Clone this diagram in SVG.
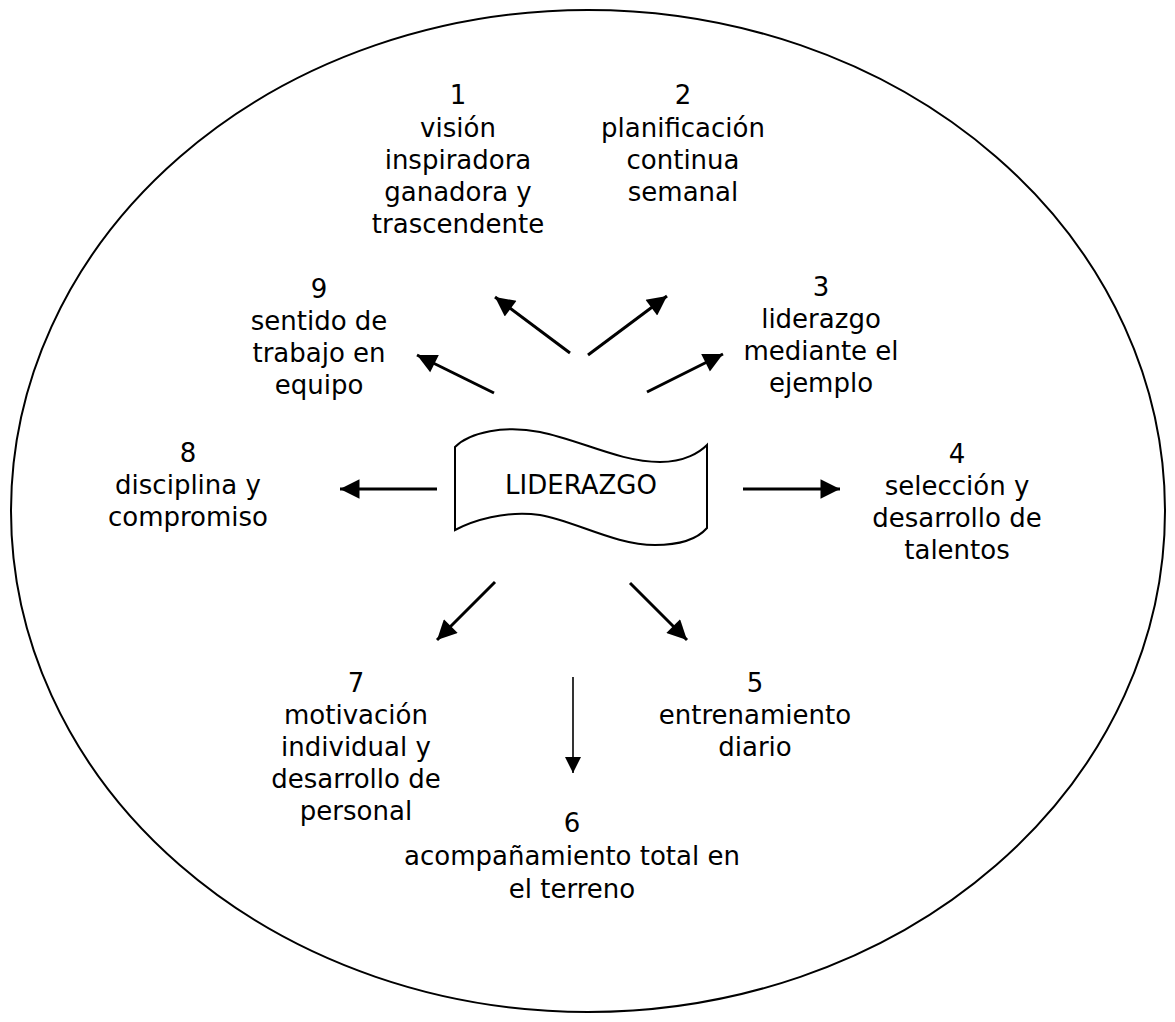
<svg xmlns="http://www.w3.org/2000/svg" width="1175" height="1022" viewBox="0 0 1175 1022">
  <style>
    .lbl { font-family: "DejaVu Sans", Verdana, sans-serif; font-size: 26px; fill: #000; text-anchor: middle; }
    .edge { stroke: #000; stroke-width: 3; fill: none; }
    .thin { stroke: #000; stroke-width: 1.6; fill: none; }
  </style>
  <defs>
    <marker id="head" viewBox="0 0 10 10" refX="10" refY="5" markerWidth="7.5" markerHeight="6.5" markerUnits="strokeWidth" orient="auto">
      <path d="M0,0 L10,5 L0,10 Z" fill="#000"/>
    </marker>
    <marker id="headThin" viewBox="0 0 10 10" refX="10" refY="5" markerWidth="13" markerHeight="10" markerUnits="strokeWidth" orient="auto">
      <path d="M0,0 L10,5 L0,10 Z" fill="#000"/>
    </marker>
  </defs>

  <rect width="1175" height="1022" fill="#fff"/>

  <!-- outer boundary -->
  <ellipse id="boundary" cx="588" cy="511" rx="577" ry="501" fill="none" stroke="#000" stroke-width="2"/>

  <!-- central banner -->
  <g id="center">
    <path d="M455,447 C470,432 505,425 540,432 C580,440 620,462 660,462 C685,462 700,452 707,445 L707,528 C700,536 685,545 655,545 C615,545 575,521 540,515 C505,510 472,521 455,530 Z" fill="#fff" stroke="#000" stroke-width="2"/>
    <text class="lbl" x="581" y="494">LIDERAZGO</text>
  </g>

  <!-- connectors -->
  <g id="connectors">
    <line class="edge" x1="570" y1="353" x2="495" y2="297" marker-end="url(#head)"/>
    <line class="edge" x1="588" y1="355" x2="667" y2="296" marker-end="url(#head)"/>
    <line class="edge" x1="494" y1="393" x2="417" y2="355" marker-end="url(#head)"/>
    <line class="edge" x1="647" y1="392" x2="723" y2="354" marker-end="url(#head)"/>
    <line class="edge" x1="437" y1="489" x2="340" y2="489" marker-end="url(#head)"/>
    <line class="edge" x1="743" y1="489" x2="840" y2="489" marker-end="url(#head)"/>
    <line class="edge" x1="495" y1="582" x2="437" y2="640" marker-end="url(#head)"/>
    <line class="edge" x1="630" y1="583" x2="687" y2="640" marker-end="url(#head)"/>
    <line class="thin" x1="573" y1="677" x2="573" y2="773" marker-end="url(#headThin)"/>
  </g>

  <g id="n1">
    <text class="lbl" x="458" y="104">1</text>
    <text class="lbl" x="458" y="137">visión</text>
    <text class="lbl" x="458" y="169">inspiradora</text>
    <text class="lbl" x="458" y="201">ganadora y</text>
    <text class="lbl" x="458" y="233">trascendente</text>
  </g>
  <g id="n2">
    <text class="lbl" x="683" y="104">2</text>
    <text class="lbl" x="683" y="137">planificación</text>
    <text class="lbl" x="683" y="169">continua</text>
    <text class="lbl" x="683" y="201">semanal</text>
  </g>
  <g id="n3">
    <text class="lbl" x="821" y="296">3</text>
    <text class="lbl" x="821" y="328">liderazgo</text>
    <text class="lbl" x="821" y="360">mediante el</text>
    <text class="lbl" x="821" y="392">ejemplo</text>
  </g>
  <g id="n4">
    <text class="lbl" x="957" y="463">4</text>
    <text class="lbl" x="957" y="495">selección y</text>
    <text class="lbl" x="957" y="527">desarrollo de</text>
    <text class="lbl" x="957" y="559">talentos</text>
  </g>
  <g id="n5">
    <text class="lbl" x="755" y="692">5</text>
    <text class="lbl" x="755" y="724">entrenamiento</text>
    <text class="lbl" x="755" y="756">diario</text>
  </g>
  <g id="n6">
    <text class="lbl" x="572" y="832">6</text>
    <text class="lbl" x="572" y="865">acompañamiento total en</text>
    <text class="lbl" x="572" y="898">el terreno</text>
  </g>
  <g id="n7">
    <text class="lbl" x="356" y="692">7</text>
    <text class="lbl" x="356" y="724">motivación</text>
    <text class="lbl" x="356" y="756">individual y</text>
    <text class="lbl" x="356" y="788">desarrollo de</text>
    <text class="lbl" x="356" y="820">personal</text>
  </g>
  <g id="n8">
    <text class="lbl" x="188" y="462">8</text>
    <text class="lbl" x="188" y="494">disciplina y</text>
    <text class="lbl" x="188" y="526">compromiso</text>
  </g>
  <g id="n9">
    <text class="lbl" x="319" y="298">9</text>
    <text class="lbl" x="319" y="330">sentido de</text>
    <text class="lbl" x="319" y="362">trabajo en</text>
    <text class="lbl" x="319" y="394">equipo</text>
  </g>
</svg>
